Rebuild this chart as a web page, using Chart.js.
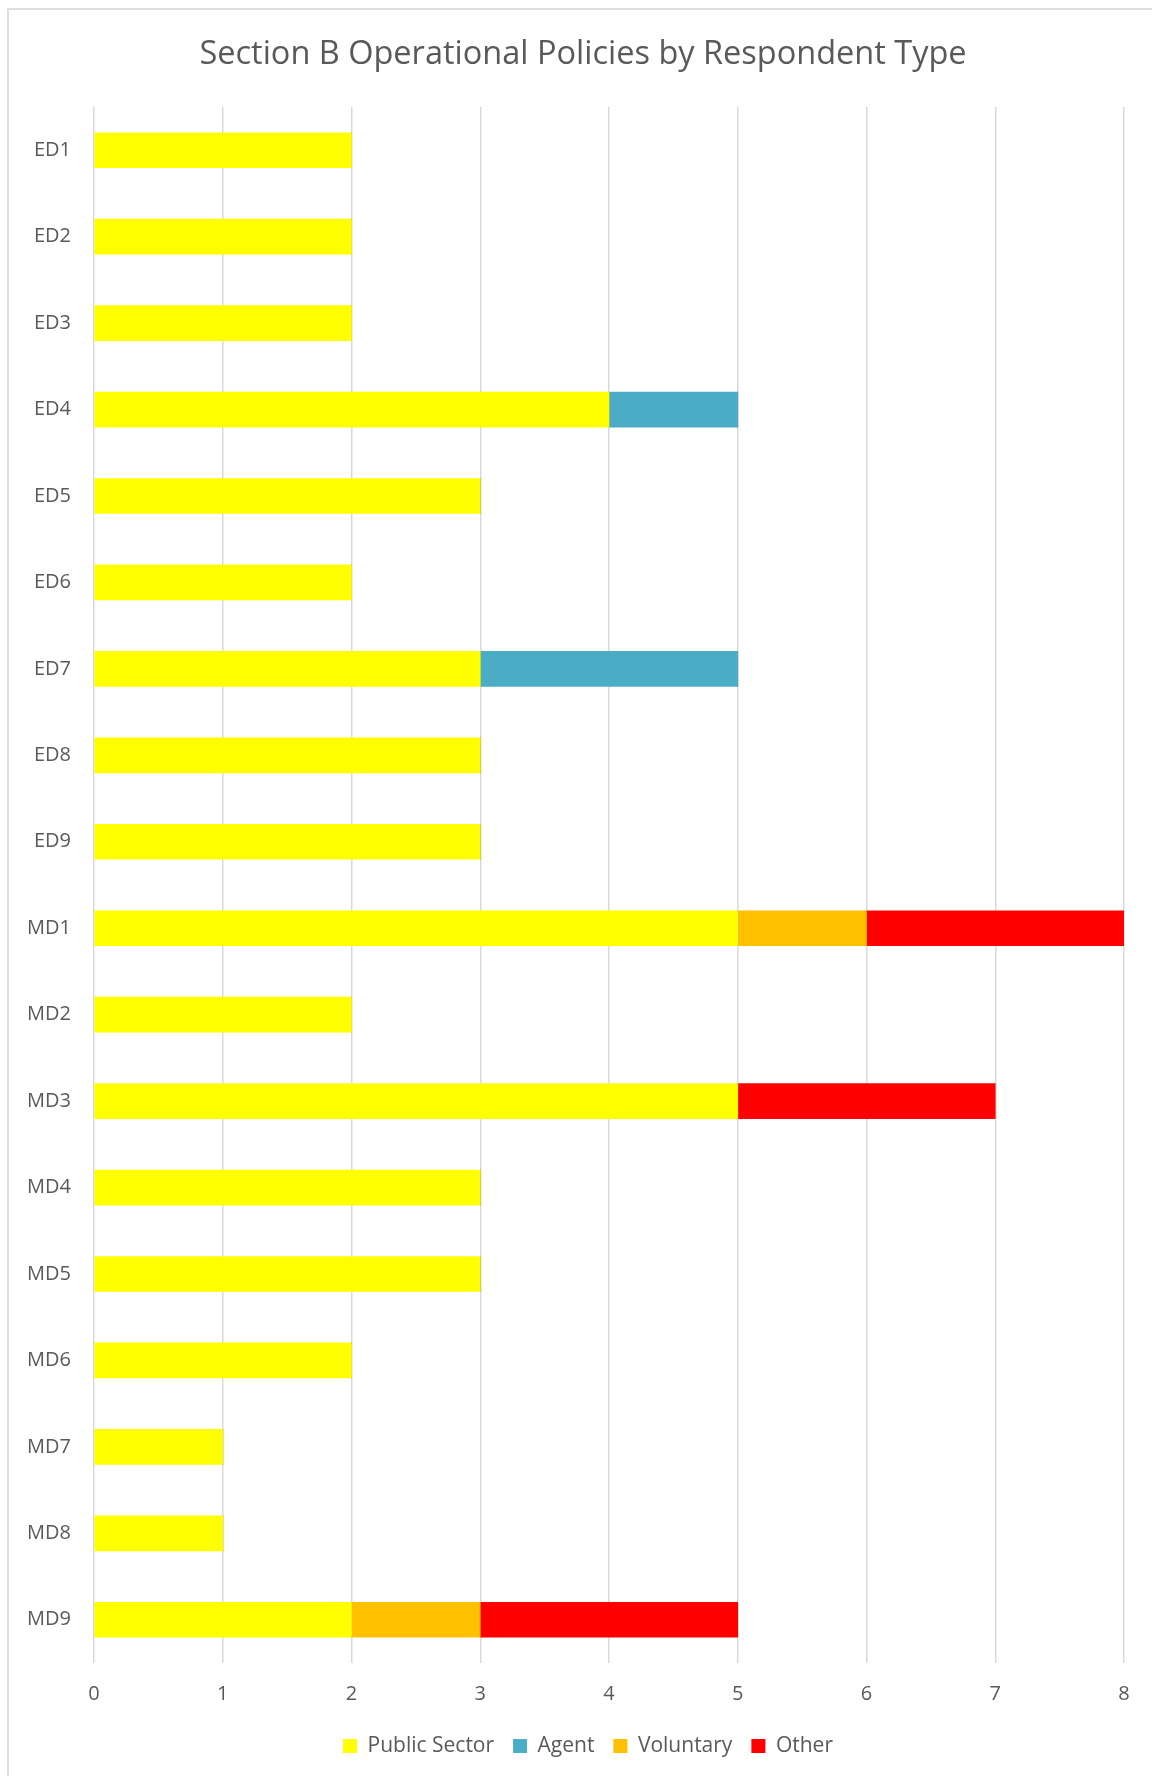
<!DOCTYPE html>
<html lang="en">
<head>
  <meta charset="UTF-8">
  <title>Section B Operational Policies by Respondent Type</title>
  <script src="https://cdn.jsdelivr.net/npm/chart.js"></script>
  <style>
    html, body {
      margin: 0;
      padding: 0;
      background: #ffffff;
      overflow: hidden;
    }
    .frame {
      position: absolute;
      left: 7px;
      top: 8px;
      width: 1160px;
      height: 1790px;
      border: 2px solid #dedede;
      box-sizing: border-box;
    }
    .chartBox {
      position: absolute;
      left: 0;
      top: 0;
      width: 1152px;
      height: 1776px;
    }
  </style>
</head>
<body>
  <div class="frame"></div>
  <div class="chartBox">
    <canvas id="policyChart" width="1152" height="1776"></canvas>
  </div>

  <script>
    // Policies (rows) and responses per respondent type
    const policies = ['ED1', 'ED2', 'ED3', 'ED4', 'ED5', 'ED6', 'ED7', 'ED8', 'ED9',
                      'MD1', 'MD2', 'MD3', 'MD4', 'MD5', 'MD6', 'MD7', 'MD8', 'MD9'];
    const publicSector = [2, 2, 2, 4, 3, 2, 3, 3, 3, 5, 2, 5, 3, 3, 2, 1, 1, 2];
    const agent        = [0, 0, 0, 1, 0, 0, 2, 0, 0, 0, 0, 0, 0, 0, 0, 0, 0, 0];
    const voluntary    = [0, 0, 0, 0, 0, 0, 0, 0, 0, 1, 0, 0, 0, 0, 0, 0, 0, 1];
    const other        = [0, 0, 0, 0, 0, 0, 0, 0, 0, 2, 0, 2, 0, 0, 0, 0, 0, 2];
    const xTicks = [0, 1, 2, 3, 4, 5, 6, 7, 8];

    const textColor = '#595959';
    const fontFamily = '"Open Sans", "DejaVu Sans", sans-serif';

    function series(label, data, color) {
      return {
        label: label,
        data: data,
        backgroundColor: color,
        borderWidth: 0,
        barThickness: 35
      };
    }

    // nudge title and legend a little right of the canvas centre
    const shiftBlocks = {
      id: 'shiftBlocks',
      afterLayout(chart) {
        const t = chart.titleBlock;
        t.left += 17;
        t.right += 17;
        const l = chart.legend;
        l.left += 22;
        l.right += 22;
        l.adjustHitBoxes();
      }
    };

    const ctx = document.getElementById('policyChart').getContext('2d');
    const chart = new Chart(ctx, {
      type: 'bar',
      data: {
        labels: policies,
        datasets: [
          series('Public Sector', publicSector, '#FFFF00'),
          series('Agent', agent, '#4BACC6'),
          series('Voluntary', voluntary, '#FFC000'),
          series('Other', other, '#FF0000')
        ]
      },
      plugins: [shiftBlocks],
      options: {
        indexAxis: 'y',
        responsive: false,
        animation: false,
        layout: {
          padding: { left: 8, right: 28, top: 35, bottom: 9.5 }
        },
        plugins: {
          title: {
            display: true,
            text: 'Section B Operational Policies by Respondent Type',
            color: textColor,
            font: { family: fontFamily, size: 32.5, weight: 'normal' },
            padding: { top: 0, bottom: 33 }
          },
          legend: {
            position: 'bottom',
            labels: {
              color: textColor,
              font: { family: fontFamily, size: 21 },
              boxWidth: 14,
              boxHeight: 14,
              padding: 19
            }
          },
          tooltip: { enabled: false }
        },
        scales: {
          x: {
            stacked: true,
            min: 0,
            max: 8,
            afterBuildTicks: (scale) => {
              scale.ticks = xTicks.map(v => ({ value: v }));
            },
            afterFit: (scale) => {
              scale.height = 53.5;
            },
            grid: {
              color: '#D9D9D9',
              lineWidth: 1.5,
              drawTicks: false
            },
            border: { display: false },
            ticks: {
              color: textColor,
              font: { family: fontFamily, size: 20 },
              padding: 19
            }
          },
          y: {
            stacked: true,
            afterFit: (scale) => {
              scale.width = 86;
            },
            grid: { display: false, drawTicks: false },
            border: { display: false },
            ticks: {
              color: textColor,
              font: { family: fontFamily, size: 20 },
              padding: 23
            }
          }
        }
      }
    });
  </script>
</body>
</html>
